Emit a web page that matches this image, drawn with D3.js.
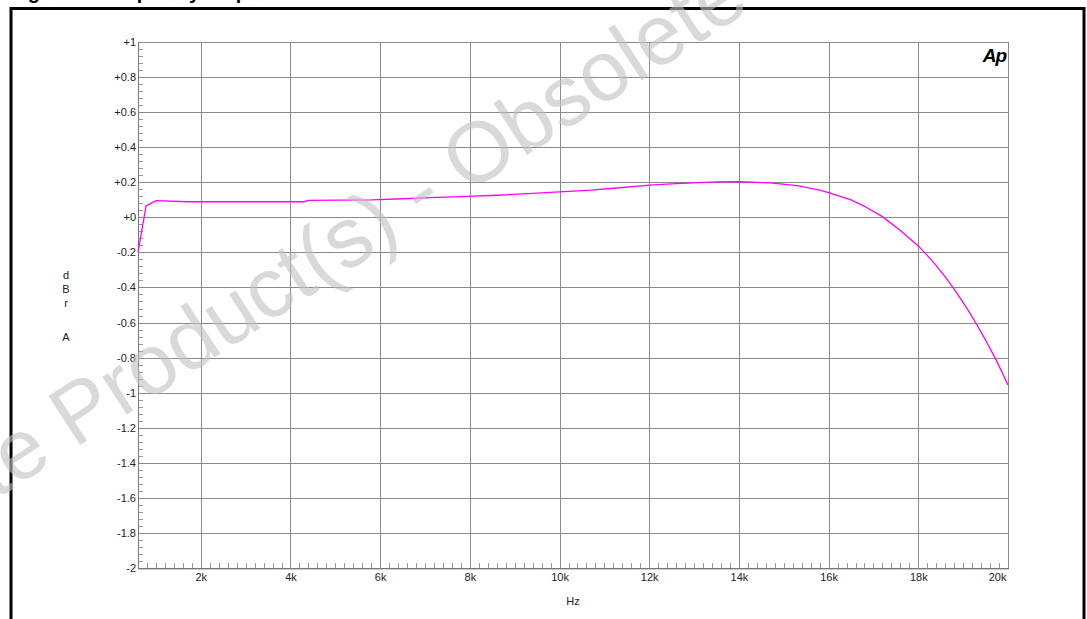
<!DOCTYPE html>
<html>
<head>
<meta charset="utf-8">
<script src="https://cdn.jsdelivr.net/npm/d3@7"></script>
<style>
  html, body { margin: 0; padding: 0; background: #fff; }
  svg { display: block; }
  text { font-family: "Liberation Sans", Arial, sans-serif; }
</style>
</head>
<body>
<svg id="chart" width="1087" height="619"></svg>
<script>
// ---- data ----
const freqHz = [600, 780, 1000, 1700, 4300, 4400, 5800, 6500, 7100, 7800, 8600, 9300, 10000,
  10700, 11200, 12000, 12700, 13500, 14000, 14700, 15300, 15800, 16000, 16500, 16800, 17200,
  17600, 18000, 18200, 18400, 18600, 18800, 19100, 19300, 19500, 19750, 20000];
const levelDbr = [-0.2, 0.065, 0.095, 0.089, 0.089, 0.097, 0.1, 0.106, 0.112, 0.118, 0.126, 0.135, 0.145,
  0.155, 0.166, 0.184, 0.194, 0.202, 0.203, 0.196, 0.181, 0.155, 0.141, 0.099, 0.063, 0.004,
  -0.075, -0.163, -0.217, -0.275, -0.34, -0.41, -0.525, -0.61, -0.70, -0.82, -0.956];
const xTickValues = [2000, 4000, 6000, 8000, 10000, 12000, 14000, 16000, 18000, 20000];
const xTickLabels = ["2k", "4k", "6k", "8k", "10k", "12k", "14k", "16k", "18k", "20k"];
const yTickValues = [1, 0.8, 0.6, 0.4, 0.2, 0, -0.2, -0.4, -0.6, -0.8, -1, -1.2, -1.4, -1.6, -1.8, -2];
const yTickLabels = ["+1", "+0.8", "+0.6", "+0.4", "+0.2", "+0", "-0.2", "-0.4", "-0.6", "-0.8",
  "-1", "-1.2", "-1.4", "-1.6", "-1.8", "-2"];
const titleText = "Figure 9. Frequency response";
const watermarkText = "Obsolete Product(s) - Obsolete Product(s)";
const yAxisLetters = ["d", "B", "r", "", "A"];
const xAxisTitle = "Hz";

// ---- layout ----
const svg = d3.select("#chart");
const L = 138, R = 1008, T = 42, B = 568;
const x = d3.scaleLinear().domain([600, 20000]).range([L, R]);
const y = d3.scaleLinear().domain([-2, 1]).range([B, T]);
const grid = "#8a8a8a";

// title (clipped at top, as in the reference)
svg.append("text").attr("x", 10).attr("y", -1)
  .attr("font-size", 20).attr("font-weight", "bold").attr("fill", "#000")
  .text(titleText);

// outer frame
svg.append("rect").attr("x", 11).attr("y", 8.5).attr("width", 1073).attr("height", 700)
  .attr("fill", "none").attr("stroke", "#000").attr("stroke-width", 3);

// gridlines
const g = svg.append("g");
g.selectAll("line.hg").data(yTickValues.filter(v => v > -2 && v < 1)).join("line")
  .attr("x1", L).attr("x2", R).attr("y1", d => Math.round(y(d)) + 0.5).attr("y2", d => Math.round(y(d)) + 0.5)
  .attr("stroke", grid).attr("stroke-width", 1);
g.selectAll("line.vg").data(xTickValues.filter(v => v < 20000)).join("line")
  .attr("y1", T).attr("y2", B).attr("x1", d => Math.round(x(d)) + 0.5).attr("x2", d => Math.round(x(d)) + 0.5)
  .attr("stroke", grid).attr("stroke-width", 1);

// minor ticks
const yMinor = d3.range(-2, 1.0001, 0.04).filter(v => Math.abs(Math.round(v * 5) - v * 5) > 0.01);
g.selectAll("line.ym").data(yMinor).join("line")
  .attr("x1", L).attr("x2", L + 5).attr("y1", d => Math.round(y(d)) + 0.5).attr("y2", d => Math.round(y(d)) + 0.5)
  .attr("stroke", "#9a9a9a");
const xMinor = d3.range(800, 20000, 200).filter(v => v % 2000 !== 0);
g.selectAll("line.xm").data(xMinor).join("line")
  .attr("y1", B).attr("y2", B - 5).attr("x1", d => Math.round(x(d)) + 0.5).attr("x2", d => Math.round(x(d)) + 0.5)
  .attr("stroke", "#9a9a9a");

// plot frame
g.append("rect").attr("x", L + 0.5).attr("y", T + 0.5).attr("width", R - L).attr("height", B - T)
  .attr("fill", "none").attr("stroke", grid);
g.append("line").attr("x1", L + 0.5).attr("x2", L + 0.5).attr("y1", T).attr("y2", B + 1).attr("stroke", "#777");
g.append("line").attr("x1", L).attr("x2", R + 1).attr("y1", B + 0.5).attr("y2", B + 0.5).attr("stroke", "#777");
g.append("line").attr("x1", L).attr("x2", R + 1).attr("y1", B + 1.5).attr("y2", B + 1.5).attr("stroke", "#ccc");

// y axis labels via d3 axis
const yAxis = d3.axisLeft(y).tickValues(yTickValues)
  .tickFormat((d, i) => yTickLabels[i]).tickSize(0).tickPadding(2);
svg.append("g").attr("transform", `translate(${L},0)`).call(yAxis)
  .call(s => s.select(".domain").remove())
  .call(s => s.selectAll("text").attr("font-size", 11).attr("fill", "#222")
    .attr("font-family", "'Liberation Sans', Arial, sans-serif"));

// x axis labels via d3 axis
const xAxis = d3.axisBottom(x).tickValues(xTickValues)
  .tickFormat((d, i) => xTickLabels[i]).tickSize(0).tickPadding(5);
svg.append("g").attr("transform", `translate(0,${B})`).call(xAxis)
  .call(s => s.select(".domain").remove())
  .call(s => s.selectAll("text").attr("font-size", 11).attr("fill", "#222")
    .attr("font-family", "'Liberation Sans', Arial, sans-serif")
    .attr("text-anchor", d => d === 20000 ? "end" : "middle")
    .attr("dx", d => d === 20000 ? -2 : 0));

// axis titles
svg.append("text").attr("x", 573).attr("y", 605).attr("text-anchor", "middle")
  .attr("font-size", 11).attr("fill", "#222").text(xAxisTitle);
const letterY = [279, 293, 307, 321, 341];
yAxisLetters.forEach((c, i) => {
  if (!c) return;
  svg.append("text").attr("x", 66).attr("y", letterY[i]).attr("text-anchor", "middle")
    .attr("font-size", 11).attr("fill", "#222").text(c);
});

// Ap logo
svg.append("text").attr("x", 1006).attr("y", 62).attr("text-anchor", "end")
  .attr("font-size", 19).attr("font-weight", "bold").attr("font-style", "italic")
  .attr("letter-spacing", -1).attr("fill", "#000").text("Ap");

// curve
const pts = freqHz.map((f, i) => [f, levelDbr[i]]);
svg.append("path").datum(pts)
  .attr("d", d3.line().x(d => x(d[0])).y(d => y(d[1])))
  .attr("fill", "none").attr("stroke", "#ff00ff").attr("stroke-width", 1.3);

// watermark
svg.append("text")
  .attr("transform", "translate(423,196) rotate(-33)")
  .attr("x", 0).attr("y", 0.26 * 85)
  .attr("text-anchor", "middle")
  .attr("font-size", 85)
  .attr("font-family", "'Liberation Sans', Arial, sans-serif")
  .attr("fill", "#c0c0c0").attr("fill-opacity", 0.6)
  .text(watermarkText);
</script>
</body>
</html>
